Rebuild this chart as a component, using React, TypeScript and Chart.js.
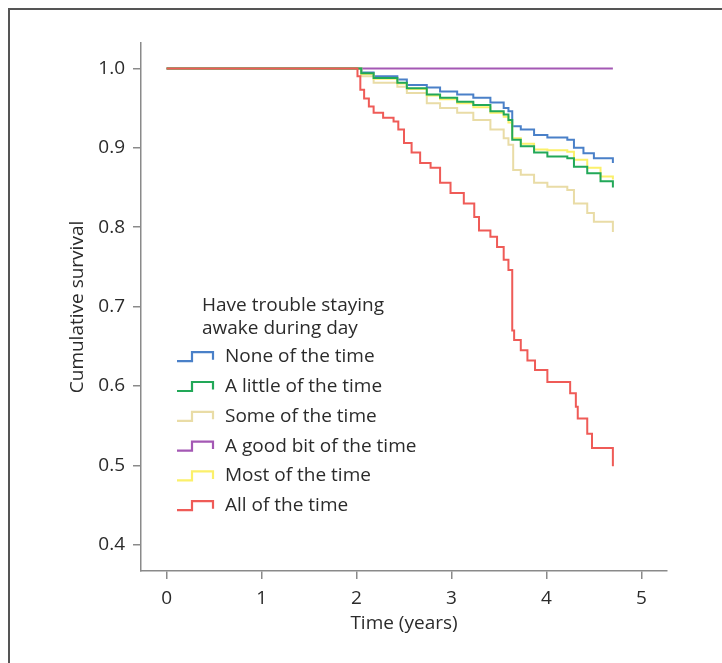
import React, { useEffect, useRef } from "react";
import { Chart, registerables } from "chart.js";

Chart.register(...registerables);

const xTicks = [0, 1, 2, 3, 4, 5];
const yTicks = [0.4, 0.5, 0.6, 0.7, 0.8, 0.9, 1.0];

const legendTitle = ["Have trouble staying", "awake during day"];
const seriesNames = [
  "None of the time",
  "A little of the time",
  "Some of the time",
  "A good bit of the time",
  "Most of the time",
  "All of the time",
];
const seriesColors = ["#4a80c8", "#22a858", "#e9dca6", "#a458b4", "#fbf06a", "#ef5b57"];

const noneT = [0, 2.0, 2.05, 2.18, 2.43, 2.53, 2.74, 2.88, 3.06, 3.23, 3.41, 3.55, 3.6, 3.64, 3.73, 3.87, 4.01, 4.22, 4.29, 4.39, 4.5, 4.7, 4.7];
const noneS = [1, 1, 0.995, 0.99, 0.986, 0.979, 0.976, 0.971, 0.967, 0.963, 0.957, 0.95, 0.946, 0.927, 0.923, 0.916, 0.913, 0.91, 0.9, 0.893, 0.887, 0.887, 0.881];

const littleT = [0, 2.0, 2.05, 2.18, 2.43, 2.53, 2.74, 2.88, 3.06, 3.23, 3.41, 3.55, 3.6, 3.64, 3.73, 3.87, 4.01, 4.22, 4.29, 4.43, 4.57, 4.7, 4.7];
const littleS = [1, 1, 0.994, 0.988, 0.982, 0.975, 0.967, 0.963, 0.958, 0.954, 0.946, 0.942, 0.935, 0.91, 0.902, 0.894, 0.889, 0.887, 0.876, 0.868, 0.858, 0.858, 0.85];

const someT = [0, 2.0, 2.05, 2.18, 2.43, 2.53, 2.74, 2.88, 3.06, 3.23, 3.41, 3.55, 3.6, 3.65, 3.73, 3.87, 4.01, 4.22, 4.29, 4.43, 4.5, 4.7, 4.7];
const someS = [1, 1, 0.99, 0.982, 0.977, 0.969, 0.956, 0.95, 0.944, 0.935, 0.923, 0.912, 0.904, 0.872, 0.866, 0.856, 0.851, 0.847, 0.83, 0.818, 0.807, 0.807, 0.794];

const goodBitT = [0, 4.7];
const goodBitS = [1, 1];

const mostT = [0, 2.0, 2.05, 2.18, 2.43, 2.53, 2.74, 2.88, 3.06, 3.23, 3.41, 3.55, 3.6, 3.64, 3.73, 3.87, 4.01, 4.22, 4.29, 4.43, 4.57, 4.7, 4.7];
const mostS = [1, 1, 0.993, 0.987, 0.981, 0.974, 0.966, 0.961, 0.956, 0.951, 0.944, 0.939, 0.932, 0.912, 0.905, 0.898, 0.897, 0.895, 0.885, 0.875, 0.864, 0.864, 0.86];

const allT = [0, 2.0, 2.01, 2.04, 2.08, 2.13, 2.18, 2.28, 2.39, 2.44, 2.5, 2.58, 2.67, 2.78, 2.88, 2.99, 3.13, 3.24, 3.29, 3.41, 3.48, 3.55, 3.6, 3.64, 3.66, 3.73, 3.8, 3.88, 4.01, 4.25, 4.31, 4.33, 4.43, 4.48, 4.7, 4.7];
const allS = [1, 1, 0.99, 0.973, 0.962, 0.952, 0.944, 0.938, 0.933, 0.923, 0.906, 0.894, 0.881, 0.875, 0.856, 0.843, 0.83, 0.813, 0.796, 0.788, 0.775, 0.759, 0.746, 0.67, 0.658, 0.645, 0.632, 0.62, 0.605, 0.591, 0.574, 0.559, 0.54, 0.522, 0.522, 0.499];

const seriesT = [noneT, littleT, someT, goodBitT, mostT, allT];
const seriesS = [noneS, littleS, someS, goodBitS, mostS, allS];
const drawOrder = [3, 1, 4, 5, 2, 0];

const FONT = "'Open Sans', sans-serif";
const FS = 19;
const TXT = "#2b2b2b";
const AXIS = "#8a8a8a";

const legendPlugin = {
  id: "kmLegend",
  afterDraw(chart: any) {
    const ctx = chart.ctx;
    ctx.save();
    ctx.font = `${FS}px ${FONT}`;
    ctx.fillStyle = TXT;
    ctx.textAlign = "left";
    ctx.textBaseline = "middle";
    ctx.fillText(legendTitle[0], 194, 298);
    ctx.fillText(legendTitle[1], 194, 321);
    seriesNames.forEach((name, i) => {
      const cy = 348.7 + i * 29.8;
      ctx.strokeStyle = seriesColors[i];
      ctx.lineWidth = 2.2;
      ctx.beginPath();
      ctx.moveTo(169, cy + 4.5);
      ctx.lineTo(184, cy + 4.5);
      ctx.lineTo(184, cy - 4.5);
      ctx.lineTo(205, cy - 4.5);
      ctx.lineTo(205, cy + 3);
      ctx.stroke();
      ctx.fillStyle = TXT;
      ctx.fillText(name, 217, cy);
    });
    ctx.restore();
  },
};

export default function App() {
  const ref = useRef<HTMLCanvasElement>(null);
  useEffect(() => {
    if (!ref.current) return;
    const datasets = seriesNames.map((name, i) => ({
      label: name,
      data: seriesT[i].map((t, j) => ({ x: t, y: seriesS[i][j] })),
      borderColor: seriesColors[i],
      backgroundColor: seriesColors[i],
      borderWidth: 2,
      pointRadius: 0,
      stepped: "before" as const,
      fill: false,
      order: drawOrder[i],
    }));
    const chart = new Chart(ref.current, {
      type: "line",
      data: { datasets },
      plugins: [legendPlugin],
      options: {
        animation: false,
        responsive: true,
        maintainAspectRatio: false,
        layout: { padding: { top: 35, right: 55, left: 0, bottom: 0 } },
        plugins: { legend: { display: false }, tooltip: { enabled: false } },
        scales: {
          x: {
            type: "linear",
            min: -0.27,
            max: 5.27,
            afterBuildTicks: (s: any) => {
              s.ticks = xTicks.map((v) => ({ value: v }));
            },
            afterFit: (s: any) => {
              s.height = 92;
            },
            grid: { display: true, drawOnChartArea: false, drawTicks: true, tickLength: 8, color: AXIS, lineWidth: 1.5 },
            border: { display: true, color: AXIS, width: 1.5 },
            ticks: { padding: 8, color: TXT, font: { family: FONT, size: FS }, callback: (v: any) => String(v) },
            title: { display: true, text: "Time (years)", color: TXT, font: { family: FONT, size: FS }, padding: { top: 0, bottom: 28 } },
          },
          y: {
            type: "linear",
            min: 0.367,
            max: 1.032,
            afterBuildTicks: (s: any) => {
              s.ticks = yTicks.map((v) => ({ value: v }));
            },
            afterFit: (s: any) => {
              s.width = 133;
            },
            grid: { display: true, drawOnChartArea: false, drawTicks: true, tickLength: 8, color: AXIS, lineWidth: 1.5 },
            border: { display: true, color: AXIS, width: 1.5 },
            ticks: { padding: 8, color: TXT, font: { family: FONT, size: FS }, callback: (v: any) => Number(v).toFixed(1) },
            title: { display: true, text: "Cumulative survival", color: TXT, font: { family: FONT, size: FS }, padding: { top: 58, bottom: 0 } },
          },
        },
      },
    });
    return () => chart.destroy();
  }, []);
  return (
    <>
      <div
        style={{
          position: "fixed",
          left: 8,
          top: 8,
          right: 0,
          bottom: 0,
          borderTop: "2px solid #555",
          borderLeft: "2px solid #555",
          boxSizing: "border-box",
        }}
      />
      <div style={{ position: "fixed", left: 8, top: 8, width: 714, height: 655 }}>
        <canvas ref={ref} />
      </div>
    </>
  );
}
